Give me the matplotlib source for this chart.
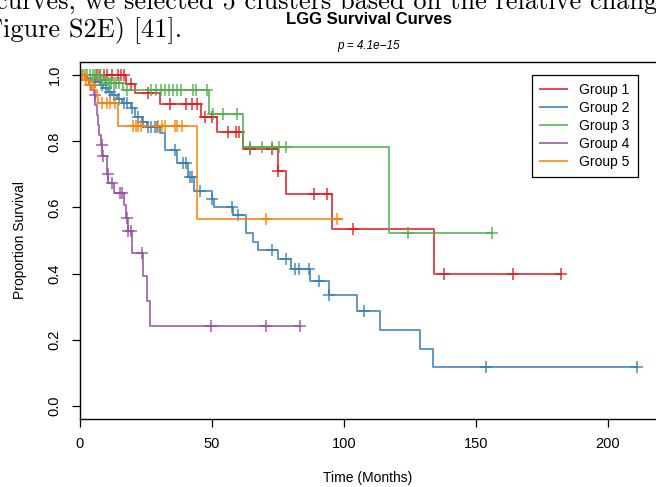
import numpy as np
import matplotlib
matplotlib.use("Agg")
import matplotlib.pyplot as plt

plt.rcParams['font.family'] = ['Liberation Sans', 'DejaVu Sans']

# ---- data ----
group_names = ["Group 1", "Group 2", "Group 3", "Group 4", "Group 5"]
group_colors = ["#E41A1C", "#377EB8", "#4DAF4A", "#984EA3", "#FF7F00"]

# Group 1
g1_times = [17.5, 21.0, 30.5, 46.0, 51.9, 62.0, 75.0, 78.2, 95.6, 134.2]
g1_surv = [0.973, 0.945, 0.914, 0.875, 0.829, 0.776, 0.711, 0.640, 0.534, 0.400]
g1_cens = [6.6, 7.8, 9.3, 10.4, 12.3, 14.6, 15.7, 16.8, 19.5, 26.0, 34.2, 40.2, 42.5,
           44.6, 47.5, 50.0, 56.1, 59.2, 60.2, 64.5, 72.7, 75.0, 88.7, 93.7, 103.6,
           138.1, 164.2, 182.2]
g1_end = 182.2

# Group 2
g2_times = [3.0, 4.6, 5.9, 7.8, 9.0, 10.9, 12.2, 14.1, 16.0, 19.5, 21.0, 23.5, 25.4,
            30.5, 32.4, 36.8, 41.2, 43.3, 50.0, 51.0, 58.0, 63.0, 65.5, 67.4, 75.0,
            79.9, 87.2, 94.4, 105.1, 113.7, 128.7, 133.7]
g2_surv = [0.993, 0.987, 0.980, 0.970, 0.960, 0.950, 0.940, 0.928, 0.915, 0.900, 0.874,
           0.859, 0.844, 0.824, 0.773, 0.735, 0.693, 0.650, 0.625, 0.602, 0.577, 0.524,
           0.496, 0.471, 0.444, 0.414, 0.378, 0.335, 0.288, 0.230, 0.173, 0.116]
g2_cens = [6.0, 8.5, 10.0, 11.5, 13.0, 15.0, 17.0, 18.0, 20.0, 22.0, 24.0, 26.0, 27.0,
           28.5, 29.5, 36.1, 39.3, 40.3, 41.8, 42.7, 45.6, 50.0, 57.6, 60.1, 72.7,
           78.2, 81.6, 83.1, 86.9, 90.6, 94.5, 107.8, 154.0, 211.1]
g2_end = 211.1

# Group 3
g3_times = [7.8, 10.0, 16.5, 49.0, 62.0, 117.3]
g3_surv = [0.985, 0.975, 0.955, 0.884, 0.784, 0.524]
g3_cens = [1.0, 2.0, 3.0, 4.0, 5.0, 6.0, 7.0, 8.5, 9.5, 11.0, 12.0, 13.0, 14.0, 15.0,
           18.0, 27.0, 29.0, 31.0, 32.5, 34.0, 35.5, 37.0, 38.5, 43.1, 44.0, 48.1,
           50.6, 54.2, 59.5, 64.5, 69.2, 72.7, 75.5, 78.0, 124.5, 156.1]
g3_end = 156.1

# Group 4
g4_times = [2.0, 3.5, 4.5, 5.5, 6.0, 6.5, 7.0, 7.5, 8.0, 8.5, 10.3, 10.9, 13.1, 16.8,
            17.5, 18.2, 19.7, 23.9, 25.4, 26.7]
g4_surv = [0.985, 0.970, 0.955, 0.940, 0.910, 0.880, 0.850, 0.820, 0.790, 0.755, 0.700,
           0.673, 0.643, 0.607, 0.567, 0.529, 0.461, 0.394, 0.317, 0.240]
g4_cens = [5.8, 8.4, 8.8, 10.7, 12.2, 15.3, 16.2, 17.9, 18.5, 19.4, 23.5, 49.8, 70.6, 83.4]
g4_end = 83.4

# Group 5
g5_times = [2.0, 3.5, 5.5, 6.5, 7.1, 14.7, 44.3]
g5_surv = [0.985, 0.970, 0.955, 0.935, 0.915, 0.845, 0.564]
g5_cens = [1.5, 2.5, 4.0, 5.0, 8.4, 10.3, 11.5, 13.4, 20.4, 21.4, 22.3, 23.2, 29.8, 31.1,
           32.4, 36.1, 37.0, 38.7, 70.6, 97.6]
g5_end = 99.5

groups = [
    (g1_times, g1_surv, g1_cens, g1_end),
    (g2_times, g2_surv, g2_cens, g2_end),
    (g3_times, g3_surv, g3_cens, g3_end),
    (g4_times, g4_surv, g4_cens, g4_end),
    (g5_times, g5_surv, g5_cens, g5_end),
]

W, H = 656, 487
fig = plt.figure(figsize=(W / 100, H / 100), dpi=100)

# scrap of the paper text above the figure
fig.text(-4 / W, 1 - 9 / H, "curves, we selected 5 clusters based on the relative change in",
         family='cmr10', fontsize=19, va='baseline', ha='left')
fig.text(-14 / W, 1 - 36 / H, "Figure S2E) [41].",
         family='cmr10', fontsize=19, va='baseline', ha='left')

ax = fig.add_axes([79.5 / W, (H - 419) / H, 580 / W, (419 - 62) / H])

for (t, s, c, end), name, col in zip(groups, group_names, group_colors):
    xs = np.concatenate([[0], t, [end]])
    ys = np.concatenate([[1.0], s, [s[-1]]])
    ax.step(xs, ys, where='post', color=col, lw=1.4, alpha=0.8, label=name)
    c = np.asarray(c)
    idx = np.searchsorted(t, c, side='right')
    cy = np.concatenate([[1.0], s])[idx]
    ax.plot(c, cy, ls='none', marker='+', ms=8, mew=1.1, color=col, alpha=0.9)

ax.set_xlim(0, 219.5)
ax.set_ylim(-0.04, 1.04)
ax.set_xticks([0, 50, 100, 150, 200])
ax.set_yticks([0.0, 0.2, 0.4, 0.6, 0.8, 1.0])
ax.set_yticklabels(["0.0", "0.2", "0.4", "0.6", "0.8", "1.0"], rotation=90, va='center')
ax.tick_params(direction='out', length=6, width=0.9, labelsize=10.5, pad=7)
for sp in ax.spines.values():
    sp.set_linewidth(1.0)

fig.text(369 / W, 1 - 19 / H, "LGG Survival Curves", ha='center', va='center',
         fontsize=12, fontweight='bold')
fig.text(369 / W, 1 - 46 / H, "p = 4.1e\u221215", ha='center', va='center',
         fontsize=8.5, style='italic')
fig.text(368 / W, 1 - 478 / H, "Time (Months)", ha='center', va='center', fontsize=10)
fig.text(20 / W, 1 - 240 / H, "Proportion Survival", ha='center', va='center',
         fontsize=10, rotation=90)

leg = ax.legend(loc='upper right', bbox_to_anchor=(638 / W, 1 - 75 / H),
                bbox_transform=fig.transFigure, borderaxespad=0, fontsize=10,
                handlelength=1.9, labelspacing=0.28, fancybox=False, framealpha=1,
                edgecolor='black', borderpad=0.6, handletextpad=0.9)
leg.get_frame().set_linewidth(0.9)

fig.savefig("out.png", dpi=100)
